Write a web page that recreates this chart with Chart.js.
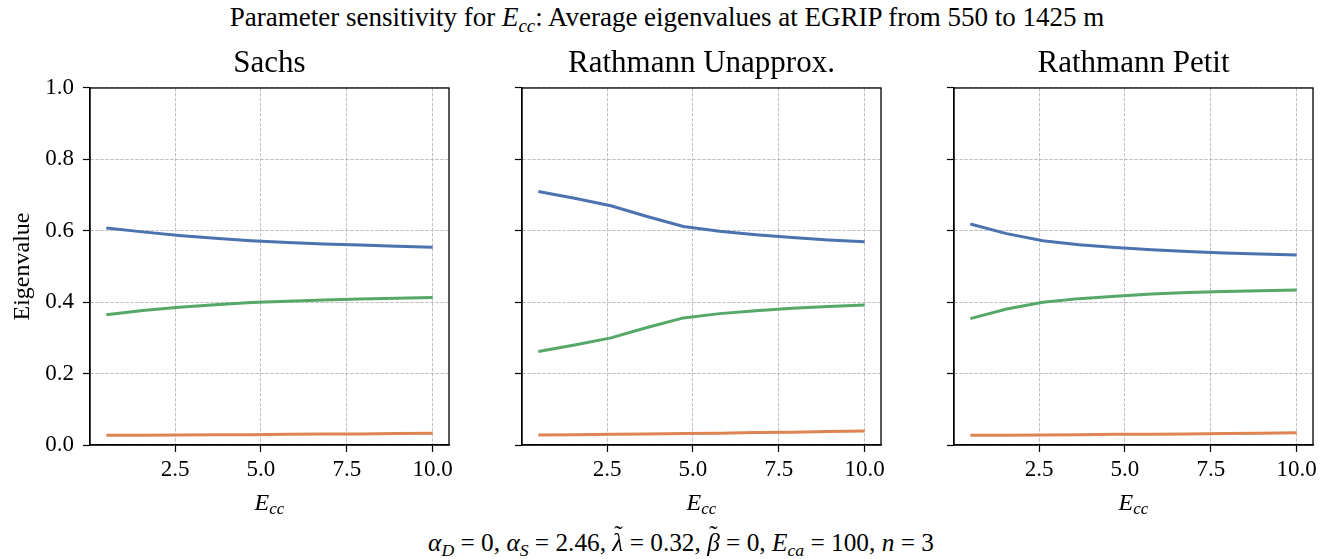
<!DOCTYPE html>
<html>
<head>
<meta charset="utf-8">
<script src="https://cdn.jsdelivr.net/npm/chart.js@4.4.1/dist/chart.umd.min.js"></script>
<style>
  body { margin: 0; width: 1338px; height: 559px; background: #fff; position: relative; overflow: hidden;
         font-family: "Liberation Serif", "DejaVu Serif", serif; color: #000; }
  .panel { position: absolute; top: 40px; }
  .txt { position: absolute; width: 1338px; text-align: center; white-space: nowrap;
         font-family: "Liberation Serif", "DejaVu Serif", serif; }
  #suptitle { left: -2px; top: 2px; font-size: 27px; line-height: 30px; }
  #note { left: 12px; top: 527px; font-size: 25.3px; line-height: 30px; }
  sub { font-size: 0.7em; vertical-align: -0.3em; line-height: 0; }
  .tl { position: relative; display: inline-block; }
  .tl::after { content: '\02DC'; position: absolute; left: 0.08em; top: -0.32em; font-style: normal; }
</style>
</head>
<body>
<div id="suptitle" class="txt">Parameter sensitivity for <i>E<sub>cc</sub></i>: Average eigenvalues at EGRIP from 550 to 1425 m</div>
<canvas id="c0" class="panel" width="480" height="480" style="left:0px"></canvas>
<canvas id="c1" class="panel" width="480" height="480" style="left:432px"></canvas>
<canvas id="c2" class="panel" width="480" height="480" style="left:864px"></canvas>
<div id="note" class="txt"><i>α<sub>D</sub></i> = 0, <i>α<sub>S</sub></i> = 2.46, <i class="tl">λ</i> = 0.32, <i class="tl">β</i> = 0, <i>E<sub>ca</sub></i> = 100, <i>n</i> = 3</div>
<script>
// E_cc values on the x axis (same for all three panels)
const ecc = [0.5, 1.556, 2.611, 3.667, 4.722, 5.778, 6.833, 7.889, 8.944, 10.0];

const panelTitles = ['Sachs', 'Rathmann Unapprox.', 'Rathmann Petit'];

// average eigenvalues (largest, middle, smallest)
const sachsLarge = [0.608, 0.597, 0.587, 0.579, 0.572, 0.567, 0.563, 0.560, 0.557, 0.554];
const sachsMid = [0.365, 0.377, 0.386, 0.393, 0.399, 0.403, 0.406, 0.409, 0.411, 0.413];
const sachsSmall = [0.027, 0.027, 0.028, 0.029, 0.029, 0.030, 0.031, 0.031, 0.032, 0.033];

const unapproxLarge = [0.710, 0.691, 0.670, 0.640, 0.612, 0.599, 0.589, 0.581, 0.574, 0.569];
const unapproxMid = [0.262, 0.280, 0.300, 0.329, 0.356, 0.368, 0.376, 0.383, 0.388, 0.392];
const unapproxSmall = [0.028, 0.029, 0.030, 0.031, 0.032, 0.033, 0.035, 0.036, 0.038, 0.039];

const petitLarge = [0.619, 0.592, 0.572, 0.561, 0.553, 0.547, 0.542, 0.538, 0.535, 0.532];
const petitMid = [0.354, 0.381, 0.400, 0.410, 0.417, 0.423, 0.427, 0.430, 0.432, 0.434];
const petitSmall = [0.027, 0.027, 0.028, 0.029, 0.030, 0.030, 0.031, 0.032, 0.033, 0.034];

const xTicks = [2.5, 5.0, 7.5, 10.0];

const BLUE = '#4c72b0';
const GREEN = '#55a868';
const ORANGE = '#dd8452';
const FONT = 'Liberation Serif';

Chart.defaults.font.family = FONT;
Chart.defaults.color = '#000';

// full box around the plot area + the E_cc axis label
const framePlugin = {
  id: 'frame',
  afterDraw(chart) {
    const { ctx, chartArea: a } = chart;
    ctx.save();
    ctx.strokeStyle = '#000';
    ctx.lineWidth = 1.3;
    ctx.setLineDash([]);
    ctx.strokeRect(a.left, a.top, a.right - a.left, a.bottom - a.top);

    ctx.fillStyle = '#000';
    ctx.textAlign = 'left';
    ctx.textBaseline = 'alphabetic';
    ctx.font = `italic 24px "${FONT}"`;
    const wE = ctx.measureText('E').width;
    ctx.font = `italic 17px "${FONT}"`;
    const wc = ctx.measureText('cc').width;
    const x0 = (a.left + a.right) / 2 - (wE + wc) / 2;
    const y0 = a.bottom + 65;
    ctx.font = `italic 24px "${FONT}"`;
    ctx.fillText('E', x0, y0);
    ctx.font = `italic 17px "${FONT}"`;
    ctx.fillText('cc', x0 + wE, y0 + 4);
    ctx.restore();
  },
};

function pts(ys) {
  return ecc.map((x, i) => ({ x: x, y: ys[i] }));
}

function line(ys, color) {
  return {
    data: pts(ys),
    borderColor: color,
    backgroundColor: color,
    borderWidth: 3,
    pointRadius: 0,
    tension: 0,
    fill: false,
  };
}

function makePanel(id, title, large, mid, small, first) {
  return new Chart(document.getElementById(id), {
    type: 'line',
    data: {
      datasets: [line(small, ORANGE), line(mid, GREEN), line(large, BLUE)],
    },
    options: {
      responsive: false,
      animation: false,
      layout: { padding: { top: 5.4, left: 0, right: 31, bottom: 0 } },
      plugins: {
        legend: { display: false },
        tooltip: { enabled: false },
        title: {
          display: true,
          fullSize: false,
          text: title,
          font: { size: 31, weight: 'normal' },
          padding: { top: 0, bottom: 5.4 },
        },
      },
      scales: {
        x: {
          type: 'linear',
          min: 0.025,
          max: 10.475,
          afterBuildTicks: (s) => { s.ticks = xTicks.map((v) => ({ value: v })); },
          afterFit: (s) => { s.height = 75; },
          ticks: {
            font: { size: 23 },
            padding: 4,
            maxRotation: 0,
            autoSkip: false,
            callback: (v) => Number(v).toFixed(1),
          },
          grid: { color: '#b0b0b0', lineWidth: 0.8, tickLength: 7, tickColor: '#000', tickWidth: 1.2 },
          border: { display: true, color: '#000', width: 1.3, dash: [3.5, 1.5] },
        },
        y: {
          min: 0,
          max: 1,
          afterFit: (s) => { s.width = 90; },
          ticks: {
            stepSize: 0.2,
            font: { size: 23 },
            padding: 9,
            callback: (v) => (first ? Number(v).toFixed(1) : ''),
          },
          title: {
            display: first,
            text: 'Eigenvalue',
            font: { size: 24 },
            padding: { top: 8, bottom: 0 },
          },
          grid: { color: '#b0b0b0', lineWidth: 0.8, tickLength: 7, tickColor: '#000', tickWidth: 1.2 },
          border: { display: true, color: '#000', width: 1.3, dash: [3.5, 1.5] },
        },
      },
    },
    plugins: [framePlugin],
  });
}

makePanel('c0', panelTitles[0], sachsLarge, sachsMid, sachsSmall, true);
makePanel('c1', panelTitles[1], unapproxLarge, unapproxMid, unapproxSmall, false);
makePanel('c2', panelTitles[2], petitLarge, petitMid, petitSmall, false);
</script>
</body>
</html>
